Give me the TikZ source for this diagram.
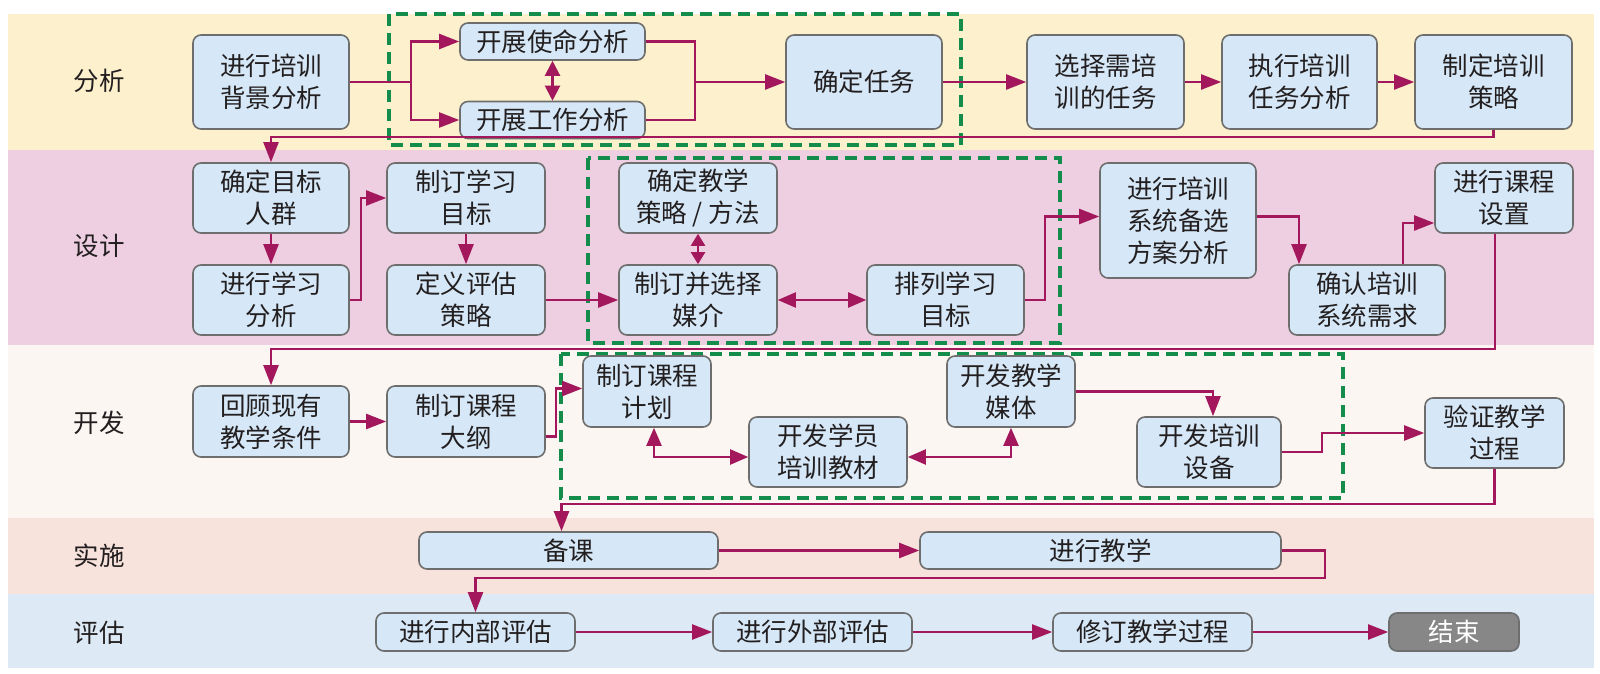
\documentclass[tikz,border=0pt]{standalone}
\usepackage{fontspec}
\setmainfont{Noto Sans CJK SC}
\usetikzlibrary{arrows.meta}
\definecolor{bandA}{HTML}{FDF0CD}
\definecolor{bandB}{HTML}{EDCFE1}
\definecolor{bandC}{HTML}{FCF6F2}
\definecolor{bandD}{HTML}{F8E2DC}
\definecolor{bandE}{HTML}{DDEAF5}
\definecolor{boxfill}{HTML}{D6E8F7}
\definecolor{boxline}{HTML}{6E6E6E}
\definecolor{arrc}{HTML}{A3185C}
\definecolor{grn}{HTML}{148C4B}
\definecolor{txt}{HTML}{231F20}
\definecolor{endfill}{HTML}{878787}
\begin{document}
\begin{tikzpicture}[x=1pt,y=-1pt,
  box/.style={draw=boxline, fill=boxfill, line width=1.6pt, rounded corners=8pt, align=center, inner sep=0pt, text=txt, font=\fontsize{25.5}{32}\selectfont},
  ln/.style={draw=arrc, line width=2.2pt},
  arr/.style={ln, -{Triangle[length=20pt,width=15pt]}},
  darr/.style={ln, {Triangle[length=18pt,width=15pt]}-{Triangle[length=18pt,width=15pt]}},
  mdarr/.style={ln, {Triangle[length=15pt,width=15pt]}-{Triangle[length=15pt,width=15pt]}},
  sdarr/.style={ln, {Triangle[length=12pt,width=14pt]}-{Triangle[length=12pt,width=14pt]}},
  grp/.style={draw=grn, line width=3.5pt, dash pattern=on 12pt off 7pt},
  lane/.style={font=\fontsize{25.5}{30}\selectfont, text=txt}]
\useasboundingbox (0,0) rectangle (1600,674);
% bands
\fill[bandA] (8,14) rectangle (1594,150);
\fill[bandB] (8,150) rectangle (1594,345);
\fill[bandC] (8,345) rectangle (1594,518);
\fill[bandD] (8,518) rectangle (1594,594);
\fill[bandE] (8,594) rectangle (1594,668);
\node[lane] (L1) at (99,81) {分析};
\node[lane] (L2) at (99,246) {设计};
\node[lane] (L3) at (99,423) {开发};
\node[lane] (L4) at (99,556) {实施};
\node[lane] (L5) at (99,633) {评估};
% groups
\draw[grp] (389,14) rectangle (961,145);
\draw[grp] (588,158) rectangle (1060,343);
\draw[grp] (561,354) rectangle (1343,498);
% row A
\node[box, minimum width=156pt, minimum height=94pt] (A1) at (271,82) {进行培训\\背景分析};
\node[box, minimum width=185pt, minimum height=37pt] (A2) at (552.5,41.5) {开展使命分析};
\node[box, minimum width=185pt, minimum height=37pt] (A3) at (552.5,120) {开展工作分析};
\node[box, minimum width=156pt, minimum height=94pt] (A4) at (864,82) {确定任务};
\node[box, minimum width=157pt, minimum height=94pt] (A5) at (1105.5,82) {选择需培\\训的任务};
\node[box, minimum width=155pt, minimum height=94pt] (A6) at (1299.5,82) {执行培训\\任务分析};
\node[box, minimum width=157pt, minimum height=94pt] (A7) at (1493.5,82) {制定培训\\策略};
% row B
\node[box, minimum width=156pt, minimum height=70pt] (B1) at (271,198) {确定目标\\人群};
\node[box, minimum width=156pt, minimum height=70pt] (B2) at (271,300) {进行学习\\分析};
\node[box, minimum width=158pt, minimum height=70pt] (B3) at (466,198) {制订学习\\目标};
\node[box, minimum width=158pt, minimum height=70pt] (B4) at (466,300) {定义评估\\策略};
\node[box, minimum width=158pt, minimum height=70pt] (B5) at (698,198) {确定教学\\策略 / 方法};
\node[box, minimum width=158pt, minimum height=70pt] (B6) at (698,300) {制订并选择\\媒介};
\node[box, minimum width=157pt, minimum height=70pt] (B7) at (945.5,300) {排列学习\\目标};
\node[box, minimum width=156pt, minimum height=115pt] (B8) at (1178,220.5) {进行培训\\系统备选\\方案分析};
\node[box, minimum width=156pt, minimum height=70pt] (B9) at (1367,300) {确认培训\\系统需求};
\node[box, minimum width=138pt, minimum height=70pt] (B10) at (1504,198) {进行课程\\设置};
% row C
\node[box, minimum width=156pt, minimum height=71pt] (C1) at (271,421.5) {回顾现有\\教学条件};
\node[box, minimum width=158pt, minimum height=71pt] (C2) at (466,421.5) {制订课程\\大纲};
\node[box, minimum width=128pt, minimum height=71pt] (C3) at (647,391.5) {制订课程\\计划};
\node[box, minimum width=158pt, minimum height=70pt] (C4) at (828,452) {开发学员\\培训教材};
\node[box, minimum width=128pt, minimum height=71pt] (C5) at (1011,391.5) {开发教学\\媒体};
\node[box, minimum width=144pt, minimum height=70pt] (C6) at (1209,452) {开发培训\\设备};
\node[box, minimum width=139pt, minimum height=70pt] (C7) at (1494.5,433) {验证教学\\过程};
% row D
\node[box, minimum width=299pt, minimum height=37pt] (D1) at (568.5,550.5) {备课};
\node[box, minimum width=361pt, minimum height=37pt] (D2) at (1100.5,550.5) {进行教学};
% row E
\node[box, minimum width=199pt, minimum height=38pt] (E1) at (475.5,632) {进行内部评估};
\node[box, minimum width=199pt, minimum height=38pt] (E2) at (812.5,632) {进行外部评估};
\node[box, minimum width=199pt, minimum height=38pt] (E3) at (1152.5,632) {修订教学过程};
\node[box, minimum width=130pt, minimum height=38pt, fill=endfill, text=white] (E4) at (1454,632) {结束};
% connectors row A
\coordinate (j1) at (411,82);
\coordinate (j2) at (695,82);
\draw[ln] (A1.east) -- (j1);
\draw[arr] (j1) |- (A2.west);
\draw[arr] (j1) |- (A3.west);
\draw[mdarr] (A2.south) -- (A3.north);
\draw[ln] (A2.east) -| (j2);
\draw[ln] (A3.east) -| (j2);
\draw[arr] (j2) -- (A4.west);
\draw[arr] (A4.east) -- (A5.west);
\draw[arr] (A5.east) -- (A6.west);
\draw[arr] (A6.east) -- (A7.west);
\draw[arr] (A7.south) -- ++(0,7) -| (B1.north);
% connectors row B
\draw[arr] (B1.south) -- (B2.north);
\draw[arr] (B2.east) -- ++(11,0) |- (B3.west);
\draw[arr] (B3.south) -- (B4.north);
\draw[arr] (B4.east) -- (B6.west);
\draw[sdarr] (B5.south) -- (B6.north);
\draw[darr] (B6.east) -- (B7.west);
\draw[arr] (B7.east) -- ++(20,0) |- ([yshift=4pt]B8.west);
\draw[arr] ([yshift=4pt]B8.east) -| ([xshift=-68pt]B9.north);
\draw[arr] ([xshift=36pt]B9.north) |- ([yshift=-25pt]B10.west);
\draw[arr] ([xshift=-9pt]B10.south) -- ++(0,115) -| (C1.north);
% connectors row C
\draw[arr] (C1.east) -- (C2.west);
\draw[arr] ([yshift=-15pt]C2.east) -- ++(10,0) |- ([yshift=3pt]C3.west);
\draw[darr] ([xshift=7pt]C3.south) |- ([yshift=-5pt]C4.west);
\draw[darr] (C5.south) |- ([yshift=-5pt]C4.east);
\draw[arr] (C5.east) -| ([xshift=4pt]C6.north);
\draw[arr] (C6.east) -- ++(40,0) |- (C7.west);
\draw[arr] (C7.south) -- ++(0,35) -| ([xshift=-7pt]D1.north);
% connectors rows D, E
\draw[arr] (D1.east) -- (D2.west);
\draw[arr] (D2.east) -- ++(43,0) -- ++(0,27.5) -| (E1.north);
\draw[arr] (E1.east) -- (E2.west);
\draw[arr] (E2.east) -- (E3.west);
\draw[arr] (E3.east) -- (E4.west);
\end{tikzpicture}
\end{document}
